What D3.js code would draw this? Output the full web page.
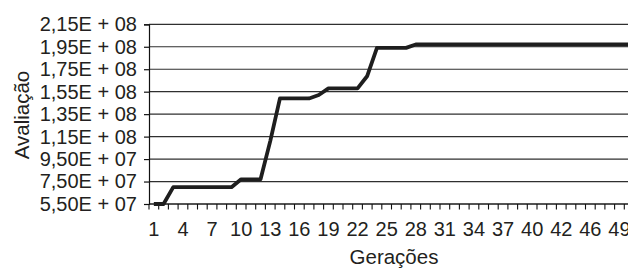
<!DOCTYPE html>
<html>
<head>
<meta charset="utf-8">
<script src="https://cdn.jsdelivr.net/npm/d3@7"></script>
<style>
  html, body { margin: 0; padding: 0; background: #fff; }
  svg { display: block; }
  text { font-family: "Liberation Sans", Arial, sans-serif; fill: #231f20; }
</style>
</head>
<body>
<svg id="chart" width="628" height="268"></svg>
<script>
// ---- data ----
const generations = d3.range(1, 51);
const evaluation = [
  5.5e7, 5.5e7, 7.0e7, 7.0e7, 7.0e7, 7.0e7, 7.0e7, 7.0e7, 7.0e7, 7.7e7,
  7.7e7, 7.7e7, 1.11e8, 1.49e8, 1.49e8, 1.49e8, 1.49e8, 1.52e8, 1.58e8, 1.58e8,
  1.58e8, 1.58e8, 1.69e8, 1.94e8, 1.94e8, 1.94e8, 1.94e8, 1.97e8, 1.97e8, 1.97e8,
  1.97e8, 1.97e8, 1.97e8, 1.97e8, 1.97e8, 1.97e8, 1.97e8, 1.97e8, 1.97e8, 1.97e8,
  1.97e8, 1.97e8, 1.97e8, 1.97e8, 1.97e8, 1.97e8, 1.97e8, 1.97e8, 1.97e8, 1.97e8
];
const yTickValues = [5.5e7, 7.5e7, 9.5e7, 1.15e8, 1.35e8, 1.55e8, 1.75e8, 1.95e8, 2.15e8];
const yTickLabels = ["5,50E + 07", "7,50E + 07", "9,50E + 07", "1,15E + 08", "1,35E + 08",
                     "1,55E + 08", "1,75E + 08", "1,95E + 08", "2,15E + 08"];
const xTickGenerations = [1, 4, 7, 10, 13, 16, 19, 22, 25, 28, 31, 34, 37, 40, 43, 46, 49];
const xTickLabels = ["1", "4", "7", "10", "13", "16", "19", "22", "25", "28", "31", "34", "37", "40", "42", "46", "49"];
const xTitle = "Gerações";
const yTitle = "Avaliação";

// ---- layout ----
const svg = d3.select("#chart");
const mLeft = 149, mTop = 24.3, mBottom = 204, step = 9.7;
const mRight = mLeft + step * generations.length;

const x = d3.scaleBand().domain(generations).range([mLeft, mRight]).padding(0);
const y = d3.scaleLinear().domain([5.5e7, 2.15e8]).range([mBottom, mTop]);

// gridlines
svg.append("g").selectAll("line").data(yTickValues).join("line")
  .attr("x1", mLeft).attr("x2", 628)
  .attr("y1", d => y(d)).attr("y2", d => y(d))
  .attr("stroke", "#2f2f2f").attr("stroke-width", 1.2);

// y axis
const yAxis = svg.append("g").attr("transform", `translate(${mLeft},0)`)
  .call(d3.axisLeft(y).tickValues(yTickValues)
    .tickFormat((d, i) => yTickLabels[i]).tickSize(5).tickPadding(7));
yAxis.select(".domain").attr("stroke", "#111").attr("stroke-width", 1.2);
yAxis.selectAll(".tick line").attr("stroke", "#111").attr("stroke-width", 1.2);
yAxis.selectAll(".tick text").style("font-size", "20px")
  .style("font-family", "'Liberation Sans', Arial, sans-serif").attr("fill", "#231f20");

// x axis: ticks on category boundaries
const xAxisG = svg.append("g").attr("transform", `translate(0,${mBottom})`);
xAxisG.append("line").attr("x1", mLeft).attr("x2", mRight)
  .attr("stroke", "#111").attr("stroke-width", 1.2);
const boundaries = generations.map(g => x(g)).concat([mRight]);
xAxisG.selectAll("line.tk").data(boundaries).join("line").attr("class", "tk")
  .attr("x1", d => d).attr("x2", d => d).attr("y1", 0).attr("y2", 5.5)
  .attr("stroke", "#111").attr("stroke-width", 1.1);
xAxisG.selectAll("text.lbl").data(xTickGenerations).join("text").attr("class", "lbl")
  .attr("x", d => x(d) + x.bandwidth() / 2).attr("y", 32)
  .attr("text-anchor", "middle").style("font-size", "20px")
  .text((d, i) => xTickLabels[i]);

// line
const line = d3.line()
  .x((d, i) => x(generations[i]) + x.bandwidth() / 2)
  .y(d => y(d));
svg.append("path").datum(evaluation)
  .attr("d", line).attr("fill", "none")
  .attr("stroke", "#1e1e1e").attr("stroke-width", 3.8)
  .attr("stroke-linejoin", "round");

// titles
svg.append("text").attr("x", 394).attr("y", 264).attr("text-anchor", "middle")
  .style("font-size", "20.5px").text(xTitle);
svg.append("text").attr("transform", "translate(29,115) rotate(-90)")
  .attr("text-anchor", "middle").style("font-size", "20.5px").text(yTitle);
</script>
</body>
</html>
